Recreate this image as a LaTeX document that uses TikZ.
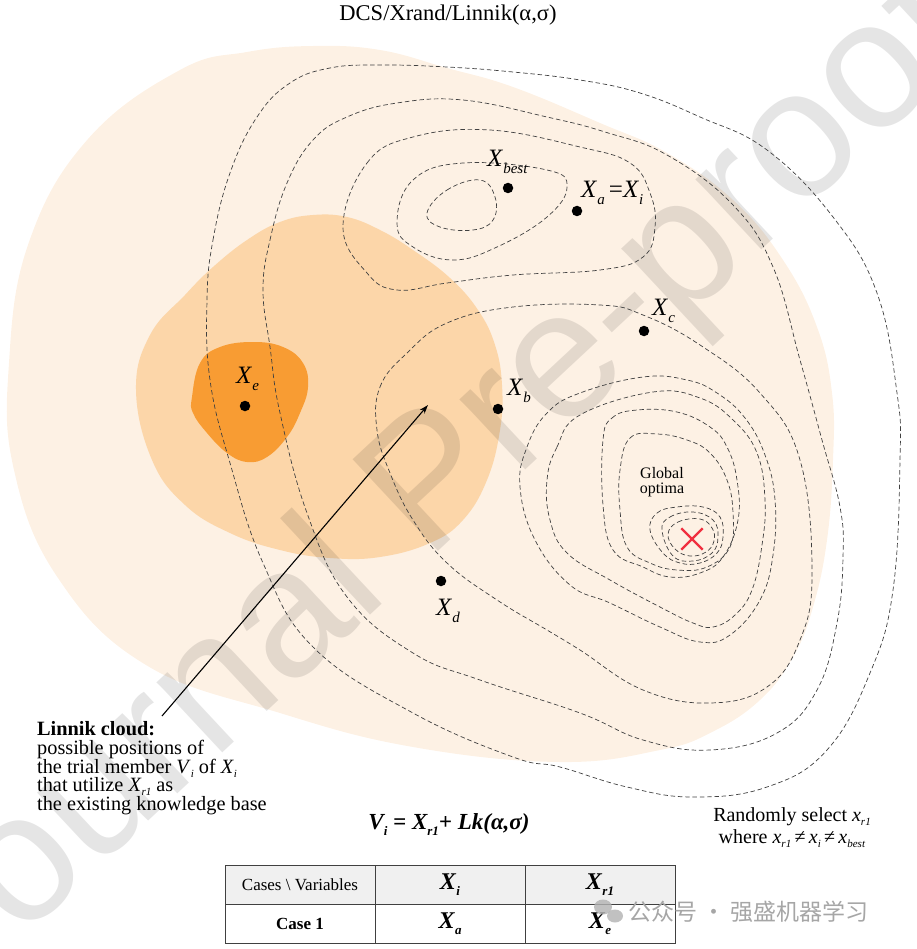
\documentclass[tikz,border=0pt]{standalone}
\usepackage{fontspec}
\setmainfont{Liberation Serif}
\newfontfamily\wmfont{Liberation Sans}
\newfontfamily\cjkfont{Noto Sans CJK SC}
\usetikzlibrary{arrows.meta,shapes.misc}
\definecolor{peach}{HTML}{FDF1E4}
\definecolor{midorange}{HTML}{FCD6A9}
\definecolor{darkorange}{HTML}{F89C33}
\definecolor{optred}{HTML}{F03040}
\newcommand\Lbl[2]{\fontsize{25}{25}\selectfont\textit{#1}\raisebox{-7pt}{\fontsize{15}{15}\selectfont\textit{#2}}}
\newcommand\Sb[2]{\textit{#1}\raisebox{-4pt}{\fontsize{11}{11}\selectfont\textit{#2}}}
\newcommand\Bx[2]{\textbf{\textit{#1}}\raisebox{-6pt}{\fontsize{13}{13}\selectfont\textbf{\textit{#2}}}}
\begin{document}
\begin{tikzpicture}[x=1pt,y=-1pt,
  contour/.style={draw=black!75, line width=0.7pt, dash pattern=on 4.5pt off 2.8pt},
  dot/.style={circle, fill=black, inner sep=0pt, minimum size=10.5pt},
  lbl/.style={anchor=base west, inner sep=0pt},
  cell/.style={draw=black!75, line width=1pt, minimum width=150pt, minimum height=39pt, inner sep=0pt, outer sep=0pt},
 ]
\useasboundingbox (0,0) rectangle (916,949);
% fills
\fill[peach] plot[smooth cycle, tension=0.7] coordinates {(9,363) (14,470) (58,578) (146,665) (280,713) (413,747) (560,762) (660,750) (712,732) (760,700) (793,657) (813,607) (827,540) (833,460) (832,393) (817,327) (783,260) (733,200) (667,153) (600,123) (513,87) (447,68) (380,50) (313,46) (247,52) (180,70) (88,139) (29,242)};
\fill[midorange] plot[smooth cycle, tension=0.7] coordinates {(136,390) (150,335) (185,295) (213,267) (247,240) (280,222) (313,215) (347,217) (380,230) (413,250) (450,278) (478,310) (495,345) (502,385) (500,430) (487,480) (463,520) (430,543) (380,557) (330,558) (280,550) (230,533) (185,505) (152,460)};
\fill[darkorange] plot[smooth cycle, tension=0.7] coordinates {(192,397) (200,363) (220,347) (253,342) (283,347) (303,363) (308,387) (300,413) (287,437) (267,457) (247,462) (227,453) (207,433) (193,413)};
% watermark
\node[rotate=43, anchor=base west, inner sep=0pt, font=\wmfont\fontsize{182}{182}\selectfont, text=black, text opacity=0.1] (wm) at (-46,1003) {Journal Pre-proof};
% contours
\draw[contour] plot[smooth cycle, tension=0.7] coordinates {(207,300) (213,240) (230,173) (257,117) (290,83) (330,68) (380,65) (447,67) (513,72) (580,80) (640,93) (700,117) (767,150) (833,217) (877,293) (897,393) (900,460) (893,590) (870,673) (827,750) (767,787) (693,797) (627,787) (560,767) (513,757) (413,713) (313,647) (263,563) (230,463) (210,380)};
\draw[contour] plot[smooth cycle, tension=0.7] coordinates {(263,290) (270,240) (287,183) (313,140) (347,117) (397,103) (463,100) (547,117) (605,132) (667,155) (733,205) (773,267) (800,360) (822,440) (840,507) (843,557) (837,623) (817,690) (777,733) (710,750) (643,740) (580,713) (480,680) (413,653) (347,597) (307,513) (280,413) (270,347)};
\draw[contour] plot[smooth cycle, tension=0.7] coordinates {(343,227) (367,163) (413,137) (490,130) (580,147) (630,163) (650,193) (655,227) (643,257) (600,270) (513,275) (447,283) (397,290) (367,273)};
\draw[contour] plot[smooth cycle, tension=0.7] coordinates {(397,223) (413,180) (463,163) (547,170) (567,187) (547,217) (497,247) (453,260) (413,247)};
\draw[contour] plot[smooth cycle, tension=0.7] coordinates {(427,213) (447,190) (480,180) (495,197) (493,220) (473,230) (440,227)};
\draw[contour] plot[smooth cycle, tension=0.7] coordinates {(377,430) (380,387) (407,353) (447,323) (513,307) (600,305) (643,315) (700,345) (760,393) (800,460) (812,573) (800,640) (767,687) (710,703) (643,690) (580,650) (547,630) (497,600) (447,563) (413,520) (390,473)};
\draw[contour] plot[smooth cycle, tension=0.7] coordinates {(520,487) (527,447) (547,413) (580,393) (643,377) (687,380) (717,393) (745,418) (765,455) (775,500) (773,555) (760,600) (730,635) (700,642) (660,627) (610,603) (570,585) (535,540)};
\draw[contour] plot[smooth cycle, tension=0.7] coordinates {(547,480) (557,447) (580,415) (653,392) (700,398) (733,420) (757,453) (765,500) (762,545) (752,590) (735,615) (713,627) (693,623) (660,607) (610,580) (567,553) (550,520)};
\draw[contour] plot[smooth cycle, tension=0.7] coordinates {(603,440) (612,418) (637,410) (677,412) (710,427) (727,447) (737,480) (738,520) (723,557) (700,573) (670,577) (643,567) (613,550) (603,505)};
\draw[contour] plot[smooth cycle, tension=0.7] coordinates {(620,470) (630,438) (657,434) (687,440) (710,453) (727,480) (733,513) (730,547) (707,567) (677,570) (650,563) (627,547) (620,510)};
\draw[contour] plot[smooth cycle, tension=0.7] coordinates {(650,530) (657,513) (677,507) (703,507) (720,517) (723,537) (717,553) (700,563) (680,563) (663,553)};
\draw[contour] plot[smooth cycle, tension=0.7] coordinates {(662,530) (670,517) (693,512) (713,520) (718,537) (712,553) (693,561) (673,556)};
\draw[contour] plot[smooth cycle, tension=0.7] coordinates {(668,534) (678,522) (700,519) (712,528) (714,541) (706,552) (690,556) (675,549)};
% optimum
\node[cross out, draw=optred, line width=2.4pt, minimum size=19pt, inner sep=0pt] (opt) at (692,539) {};
\node[align=center, inner sep=0pt, font=\fontsize{16}{15}\selectfont] (go) at (662,482) {Global\\optima};
% points
\node[dot] (xbest) at (508,188) {};
\node[dot] (xa) at (577,211) {};
\node[dot] (xc) at (644,331) {};
\node[dot] (xb) at (498,409) {};
\node[dot] (xe) at (245,406) {};
\node[dot] (xd) at (441,581) {};
\node[lbl] (lbest) at (487,167) {\Lbl{X}{best}};
\node[lbl] (la) at (581,198) {\Lbl{X}{a}\fontsize{25}{25}\selectfont\,=\Lbl{X}{i}};
\node[lbl] (lc) at (652,315) {\Lbl{X}{c}};
\node[lbl] (lb) at (507,395) {\Lbl{X}{b}};
\node[lbl] (le) at (236,383) {\Lbl{X}{e}};
\node[lbl] (ld) at (436,615) {\Lbl{X}{d}};
% title
\node[font=\fontsize{22.5}{22.5}\selectfont] (title) at (448,15) {DCS/Xrand/Linnik(α,σ)};
% Linnik cloud arrow and text
\coordinate (arrS) at (162,716);
\coordinate (arrE) at (428,405);
\draw[line width=1.1pt, -{Stealth[length=9pt,width=6pt]}] (arrS) -- (arrE);
\node[anchor=north west, align=left, inner sep=0pt, font=\fontsize{20.3}{18.9}\selectfont] (cloud) at (37,721) {\textbf{Linnik cloud:}\\possible positions of\\the trial member \Sb{V}{i} of \Sb{X}{i}\\that utilize \Sb{X}{r1} as\\the existing knowledge base};
% formula
\node[font=\fontsize{23}{23}\selectfont\bfseries\itshape] (formula) at (449,825) {V\raisebox{-6pt}{\fontsize{13}{13}\selectfont i} = X\raisebox{-6pt}{\fontsize{13}{13}\selectfont r1}+ Lk(α,σ)};
% random selection
\node[anchor=north, align=center, inner sep=0pt, font=\fontsize{20}{22}\selectfont] (rand) at (792,807) {Randomly select \Sb{x}{r1}\\where \Sb{x}{r1}\,≠\,\Sb{x}{i}\,≠\,\Sb{x}{best}};
% table
\node[cell, fill=black!6, font=\fontsize{17}{17}\selectfont] (c11) at (300,884.5) {Cases \textbackslash\ Variables};
\node[cell, fill=black!6, font=\fontsize{24}{24}\selectfont] (c12) at (450,884.5) {\Bx{X}{i}};
\node[cell, fill=black!6, font=\fontsize{24}{24}\selectfont] (c13) at (600,884.5) {\Bx{X}{r1}};
\node[cell, font=\fontsize{17}{17}\selectfont\bfseries] (c21) at (300,923.5) {Case 1};
\node[cell, font=\fontsize{24}{24}\selectfont] (c22) at (450,923.5) {\Bx{X}{a}};
\node[cell, font=\fontsize{24}{24}\selectfont] (c23) at (600,923.5) {\Bx{X}{e}};
% overlay
\fill[black!30, opacity=0.8] (603,907) ellipse (9pt and 7.5pt);
\fill[black!30, opacity=0.8] (615,916) ellipse (8pt and 6.5pt);
\node[anchor=west, inner sep=0pt, text=black!35, font=\cjkfont\fontsize{23}{23}\selectfont] (wechat) at (628,912) {公众号 · 强盛机器学习};
\end{tikzpicture}
\end{document}
